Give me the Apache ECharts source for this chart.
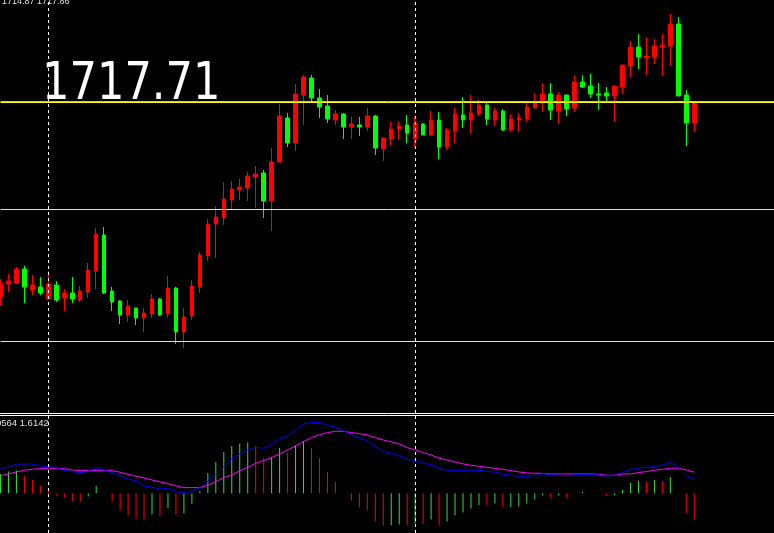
<!DOCTYPE html>
<html><head><meta charset="utf-8">
<script src="https://cdn.jsdelivr.net/npm/echarts@6/dist/echarts.min.js"></script>
<style>html,body{margin:0;padding:0;background:#000;overflow:hidden}#c{width:774px;height:533px}</style>
</head><body><div id="c"></div>
<script>
// ---- candle data (price) ----
const opens = [1698.21,1699.51,1699.61,1701.01,1698.91,1699.21,1698.01,1699.41,1698.11,1698.61,
 1697.91,1698.71,1700.81,1704.41,1698.81,1697.81,1696.41,1697.11,1696.11,1696.51,
 1698.01,1696.51,1699.11,1694.71,1696.31,1699.21,1702.31,1705.51,1706.11,1707.91,
 1708.91,1709.11,1710.21,1710.61,1707.81,1711.71,1716.11,1713.61,1718.41,1720.11,
 1718.11,1717.31,1715.91,1716.51,1715.21,1715.41,1715.21,1716.31,1713.01,1714.01,
 1715.01,1715.41,1714.01,1715.51,1714.41,1715.91,1713.21,1714.81,1716.41,1715.91,
 1716.51,1717.41,1715.91,1716.81,1714.91,1715.91,1716.01,1717.11,1717.61,1718.51,
 1716.81,1718.41,1717.11,1719.71,1719.31,1718.51,1718.61,1718.31,1719.21,1721.31,
 1723.21,1722.11,1722.21,1723.21,1723.31,1725.51,1718.41,1715.61];
const closes = [1699.51,1699.81,1701.01,1699.21,1699.41,1698.61,1699.51,1697.91,1698.61,1698.01,
 1698.81,1700.91,1704.51,1698.61,1697.71,1696.41,1697.31,1696.11,1696.61,1698.01,
 1696.41,1699.11,1694.71,1696.21,1699.31,1702.41,1705.51,1706.21,1708.01,1709.01,
 1709.21,1710.31,1710.51,1707.81,1711.71,1716.31,1713.61,1718.51,1720.21,1718.11,
 1717.21,1716.01,1716.51,1715.21,1715.51,1715.21,1716.31,1713.11,1714.11,1715.01,
 1715.31,1714.61,1715.61,1714.41,1715.91,1713.21,1714.91,1716.51,1715.91,1716.61,
 1717.41,1716.01,1716.81,1714.91,1716.01,1716.11,1717.21,1717.71,1718.51,1716.91,
 1718.41,1717.01,1719.71,1719.21,1718.51,1718.41,1718.31,1719.31,1721.41,1723.21,
 1722.21,1722.31,1723.31,1723.41,1725.51,1718.31,1715.61,1717.71];
const lows = [1697.31,1698.71,1699.51,1697.61,1698.41,1698.41,1698.01,1697.71,1696.81,1697.61,
 1697.71,1698.11,1699.01,1698.51,1696.81,1695.51,1695.71,1695.41,1694.71,1696.11,
 1696.31,1696.11,1693.51,1693.11,1695.91,1698.61,1701.81,1702.11,1705.41,1707.01,
 1707.91,1707.81,1707.11,1706.11,1704.81,1711.71,1713.21,1712.81,1715.41,1717.61,
 1716.11,1715.61,1715.41,1714.01,1714.01,1714.31,1714.81,1712.41,1711.81,1713.41,
 1713.91,1713.61,1713.21,1714.41,1714.31,1712.01,1712.91,1713.61,1715.11,1714.51,
 1716.31,1715.41,1715.31,1714.81,1714.71,1714.71,1715.71,1717.11,1716.71,1715.91,
 1715.51,1716.31,1716.71,1719.11,1718.11,1716.91,1717.61,1715.71,1718.51,1720.21,
 1721.01,1720.41,1721.51,1720.31,1721.31,1718.31,1713.31,1714.71];
const highs = [1700.01,1700.51,1701.21,1701.31,1700.41,1700.21,1700.81,1699.81,1699.01,1700.21,
 1699.31,1701.61,1705.11,1705.21,1699.21,1697.91,1697.91,1697.11,1697.11,1698.51,
 1698.11,1700.31,1699.21,1697.11,1699.91,1702.71,1706.01,1707.31,1709.71,1709.81,
 1710.01,1710.71,1711.31,1710.91,1713.11,1717.51,1716.61,1719.51,1720.41,1720.41,
 1719.01,1718.41,1716.91,1716.61,1716.21,1716.21,1717.11,1716.41,1714.11,1715.71,
 1715.81,1716.41,1716.31,1715.61,1716.81,1716.71,1715.11,1717.11,1718.21,1718.41,
 1717.91,1717.61,1717.11,1717.01,1716.51,1716.61,1717.61,1718.61,1719.61,1719.61,
 1718.71,1718.41,1720.41,1720.41,1720.51,1719.61,1719.21,1719.31,1721.41,1723.81,
 1724.51,1724.21,1724.01,1724.51,1726.51,1726.21,1718.91,1717.71];

// ---- MACD ----
const dif = [1.836,2.015,2.219,2.244,2.244,2.091,2.040,1.964,1.760,1.658,
 1.581,1.683,1.964,1.785,1.581,1.275,1.097,0.944,0.561,0.459,
 0.332,0.357,0.128,0.026,0.153,0.434,0.918,1.479,2.040,2.627,
 2.984,3.315,3.519,3.443,3.749,4.182,4.386,4.845,5.304,5.432,
 5.406,5.202,5.049,4.794,4.463,4.208,4.029,3.570,3.213,3.060,
 2.856,2.601,2.499,2.295,2.193,1.913,1.760,1.760,1.760,1.760,
 1.760,1.683,1.607,1.454,1.377,1.301,1.301,1.352,1.505,1.403,
 1.403,1.326,1.428,1.428,1.428,1.403,1.301,1.403,1.632,1.811,
 1.913,1.989,2.040,2.168,2.372,1.989,1.352,1.0564];
const dea = [1.352,1.479,1.632,1.760,1.836,1.887,1.913,1.913,1.887,1.785,
 1.734,1.734,1.734,1.734,1.734,1.607,1.454,1.301,1.173,1.020,
 0.867,0.740,0.561,0.434,0.434,0.434,0.612,0.893,1.199,1.403,
 1.709,1.989,2.295,2.499,2.729,3.009,3.315,3.621,3.953,4.259,
 4.488,4.641,4.743,4.743,4.641,4.565,4.463,4.259,4.080,3.927,
 3.774,3.494,3.315,3.111,2.933,2.678,2.550,2.397,2.244,2.142,
 2.066,1.989,1.913,1.836,1.734,1.632,1.556,1.530,1.530,1.479,
 1.479,1.479,1.479,1.479,1.479,1.454,1.377,1.377,1.479,1.479,
 1.581,1.658,1.760,1.836,1.913,1.913,1.785,1.6142];
const hist = [1.454,1.658,1.734,1.326,1.020,0.561,0.332,-0.128,-0.357,-0.638,
 -0.663,-0.255,0.561,-0.051,-0.638,-1.326,-1.658,-1.964,-2.040,-1.632,
 -1.734,-1.122,-1.658,-1.556,-0.816,0.179,1.556,2.397,3.162,3.621,
 3.800,3.876,3.621,2.703,2.780,3.468,3.086,3.647,4.004,3.468,
 2.703,1.632,0.867,0,-0.561,-1.097,-1.326,-2.168,-2.474,-2.448,
 -2.397,-2.423,-2.321,-2.346,-2.015,-2.423,-2.168,-1.709,-1.479,-1.173,
 -0.893,-0.944,-0.791,-1.097,-1.071,-1.020,-0.791,-0.485,-0.179,-0.332,
 -0.179,-0.332,0,0.102,0,-0.026,-0.179,-0.128,0.255,0.791,
 0.944,0.867,1.020,0.944,1.250,0.026,-1.505,-2.040];

// ---- annotations ----
const separatorIdx = [6, 52];
const levelLines = [1717.71, 1707.01, 1693.81];
const bidPrice = 1717.81;
const headerText = '1714.87 1717.86';
const macdText = '1.0564 1.6142';
const priceLabel = '1717.71';
const emptySlots = 10;

const categories = [];
for (let i = 0; i < opens.length + emptySlots; i++) categories.push(String(i + 1));
const candles = opens.map((o, i) => [o, closes[i], lows[i], highs[i]]);
const histData = hist.map((v, i) => ({
  value: v,
  itemStyle: { color: (i === 0 || v >= hist[i - 1]) ? '#33dd33' : '#ff0000' }
}));

const sepLines = separatorIdx.map(i => ({ xAxis: categories[i] }));
const dashStyle = { color: '#ffffff', width: 1, type: [3, 3] };
const slotW = 8;
const gridW = slotW * (categories.length - 1);

const xCommon = {
  type: 'category', data: categories, boundaryGap: false,
  axisLine: { show: true, onZero: false, lineStyle: { color: '#ffffff', width: 1 } },
  axisTick: { show: false }, axisLabel: { show: false }, splitLine: { show: false }
};

const chart = echarts.init(document.getElementById('c'), null, { renderer: 'canvas' });
chart.setOption({
  backgroundColor: '#000000',
  animation: false,
  grid: [
    { left: 0.5, top: 0, width: gridW, height: 413 },
    { left: 0.5, top: 415, width: gridW, height: 118 }
  ],
  xAxis: [
    Object.assign({ gridIndex: 0, position: 'bottom' }, xCommon),
    Object.assign({ gridIndex: 1, position: 'top' }, xCommon)
  ],
  yAxis: [
    { type: 'value', gridIndex: 0, min: 1686.61, max: 1727.91, show: false, splitLine: { show: false } },
    { type: 'value', gridIndex: 1, min: -3.04, max: 5.99, show: false, splitLine: { show: false } }
  ],
  series: [
    {
      type: 'candlestick', xAxisIndex: 0, yAxisIndex: 0, data: candles, barWidth: 4, clip: false,
      itemStyle: { color: '#ff0000', color0: '#00ff00', borderColor: '#ff0000', borderColor0: '#00ff00', borderWidth: 1 },
      markLine: {
        silent: true, symbol: 'none', label: { show: false }, animation: false,
        data: [
          ...levelLines.map(v => ({ yAxis: v, lineStyle: { color: '#ffff00', width: 1, type: 'solid' } })),
          { yAxis: bidPrice, lineStyle: { color: '#c0c0c0', width: 1, type: 'solid' } },
          ...sepLines.map(d => Object.assign({}, d, { lineStyle: dashStyle }))
        ]
      }
    },
    {
      type: 'bar', xAxisIndex: 1, yAxisIndex: 1, data: histData, barWidth: 1, z: 2, clip: false,
      markLine: {
        silent: true, symbol: 'none', label: { show: false }, animation: false,
        data: sepLines.map(d => Object.assign({}, d, { lineStyle: dashStyle }))
      }
    },
    { type: 'line', xAxisIndex: 1, yAxisIndex: 1, data: dea, symbol: 'none', z: 3,
      lineStyle: { color: '#ff00ff', width: 1 } },
    { type: 'line', xAxisIndex: 1, yAxisIndex: 1, data: dif, symbol: 'none', z: 4,
      lineStyle: { color: '#0000ff', width: 1 } }
  ],
  graphic: [
    { type: 'text', x: 2, y: 2, z: 10,
      style: { text: headerText, fill: '#e0e0e0', font: '9px "Liberation Sans"', verticalAlign: 'middle', textAlign: 'left' } },
    { type: 'text', x: 42, y: 85, scaleX: 0.83, z: 10,
      style: { text: priceLabel, fill: '#ffffff', font: '52px "DejaVu Sans"', verticalAlign: 'middle', textAlign: 'left' } },
    { type: 'text', x: -12, y: 423.5, z: 10,
      style: { text: macdText, fill: '#e0e0e0', font: '9.5px "Liberation Sans"', verticalAlign: 'middle', textAlign: 'left' } }
  ]
});
</script>
</body></html>
